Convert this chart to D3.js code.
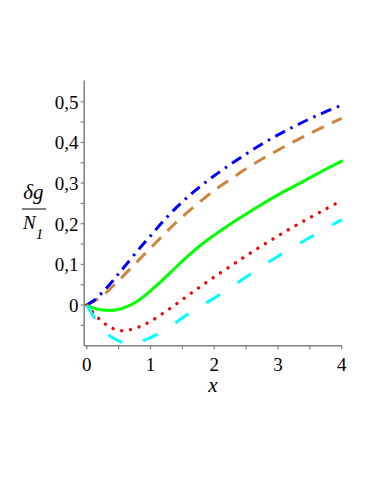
<!DOCTYPE html>
<html>
<head>
<meta charset="utf-8">
<script src="https://cdn.jsdelivr.net/npm/d3@7"></script>
<style>
  html, body { margin: 0; padding: 0; background: #fff; }
  svg { display: block; }
</style>
</head>
<body>
<svg id="chart" width="374" height="484"></svg>
<script>
// ---- data ----
const xs = [0, 0.1, 0.2, 0.3, 0.4, 0.5, 0.6, 0.8, 1.0, 1.2, 1.4, 1.6, 1.8, 2.0, 2.25, 2.5, 2.75, 3.0, 3.25, 3.5, 3.75, 4.0];
const blueDashDot = [0, 0.010, 0.024, 0.040, 0.058, 0.077, 0.096, 0.134, 0.170, 0.206, 0.239, 0.268, 0.294, 0.318, 0.3455, 0.3715, 0.396, 0.4185, 0.439, 0.458, 0.4755, 0.4915];
const brownDash   = [0, 0.008, 0.018, 0.030, 0.045, 0.060, 0.076, 0.108, 0.140, 0.172, 0.203, 0.231, 0.257, 0.282, 0.309, 0.335, 0.359, 0.381, 0.402, 0.422, 0.441, 0.459];
const greenSolid  = [0, -0.007, -0.011, -0.013, -0.013, -0.011, -0.006, 0.010, 0.035, 0.063, 0.093, 0.122, 0.149, 0.172, 0.199, 0.224, 0.248, 0.271, 0.292, 0.313, 0.334, 0.354];
const redDot      = [0, -0.018, -0.035, -0.048, -0.057, -0.062, -0.063, -0.055, -0.040, -0.020, 0.002, 0.025, 0.047, 0.069, 0.095, 0.121, 0.146, 0.170, 0.193, 0.215, 0.236, 0.257];
const cyanLongDash= [0, -0.026, -0.050, -0.068, -0.080, -0.088, -0.093, -0.092, -0.080, -0.064, -0.043, -0.021, -0.002, 0.017, 0.043, 0.069, 0.095, 0.120, 0.144, 0.166, 0.188, 0.210];
const xTicks = [0, 1, 2, 3, 4];
const xMinorTicks = [0.5, 1.5, 2.5, 3.5];
const yTicks = [0, 0.1, 0.2, 0.3, 0.4, 0.5];
const yMinorTicks = [-0.05, 0.05, 0.15, 0.25, 0.35, 0.45];

const series = [
  { name: "brown", values: brownDash, color: "#cd853f", dash: "13,9", cap: "butt", width: 3 },
  { name: "blue", values: blueDashDot, color: "#0000ff", dash: "11,6,2.5,6", cap: "butt", width: 3 },
  { name: "green", values: greenSolid, color: "#00ff00", dash: null, cap: "round", width: 3 },
  { name: "red", values: redDot, color: "#ff0000", dash: "0.01,8.9", cap: "round", width: 3.4 },
  { name: "cyan", values: cyanLongDash, color: "#00ffff", dash: "16,21", cap: "butt", width: 3 }
];

// ---- layout ----
const FONT = "'Liberation Serif', 'DejaVu Serif', 'Times New Roman', serif";
const svg = d3.select("#chart");
const x = d3.scaleLinear().domain([-0.04, 4]).range([84.2, 341.7]);
const y = d3.scaleLinear().domain([-0.1, 0.552]).range([345.7, 80.6]);
const axisColor = "#808080";
const fmt = d => d === 0 ? "0" : d3.format(".1f")(d).replace(".", ",");

// axes lines
const x0 = x.range()[0], yBottom = y.range()[0];
svg.append("line").attr("x1", x0).attr("x2", x0).attr("y1", y.range()[1]).attr("y2", yBottom)
  .attr("stroke", axisColor).attr("stroke-width", 1.5);
svg.append("line").attr("x1", x0).attr("x2", x.range()[1]).attr("y1", yBottom).attr("y2", yBottom)
  .attr("stroke", axisColor).attr("stroke-width", 1.5);

// y ticks
svg.selectAll(".ytick").data(yTicks.concat(yMinorTicks)).join("line")
  .attr("x1", x0 - 3.5).attr("x2", x0).attr("y1", d => y(d)).attr("y2", d => y(d))
  .attr("stroke", axisColor).attr("stroke-width", 1.2);
svg.selectAll(".ylab").data(yTicks).join("text")
  .attr("x", 78.5).attr("y", d => y(d) + 6.8).attr("text-anchor", "end")
  .attr("font-family", FONT).attr("font-size", 19).text(fmt);

// x ticks
svg.selectAll(".xtick").data(xTicks.concat(xMinorTicks)).join("line")
  .attr("x1", d => x(d)).attr("x2", d => x(d)).attr("y1", yBottom).attr("y2", yBottom + 3.5)
  .attr("stroke", axisColor).attr("stroke-width", 1.2);
svg.selectAll(".xlab").data(xTicks).join("text")
  .attr("x", d => x(d)).attr("y", 370.5).attr("text-anchor", "middle")
  .attr("font-family", FONT).attr("font-size", 19).text(d => String(d));

// axis labels
svg.append("text").attr("x", 213).attr("y", 392).attr("text-anchor", "middle")
  .attr("font-family", FONT).attr("font-size", 21).attr("font-style", "italic").text("x");

const yl = svg.append("g");
yl.append("text").attr("x", 33.5).attr("y", 199).attr("text-anchor", "middle")
  .attr("font-family", FONT).attr("font-size", 21).attr("font-style", "italic").text("δg");
yl.append("line").attr("x1", 22).attr("x2", 46).attr("y1", 209).attr("y2", 209)
  .attr("stroke", "#000").attr("stroke-width", 1);
const nt = yl.append("text").attr("x", 23).attr("y", 228.5)
  .attr("font-family", FONT).attr("font-size", 19).attr("font-style", "italic");
nt.append("tspan").text("N");
nt.append("tspan").attr("dy", 10).attr("font-size", 15).text("1");

// curves
const line = d3.line().x(d => x(d[0])).y(d => y(d[1])).curve(d3.curveCatmullRom.alpha(0.5));
svg.selectAll(".curve").data(series).join("path")
  .attr("d", s => line(xs.map((xv, i) => [xv, s.values[i]])))
  .attr("fill", "none")
  .attr("stroke", s => s.color)
  .attr("stroke-width", s => s.width)
  .attr("stroke-linecap", s => s.cap)
  .attr("stroke-dasharray", s => s.dash);
</script>
</body>
</html>
